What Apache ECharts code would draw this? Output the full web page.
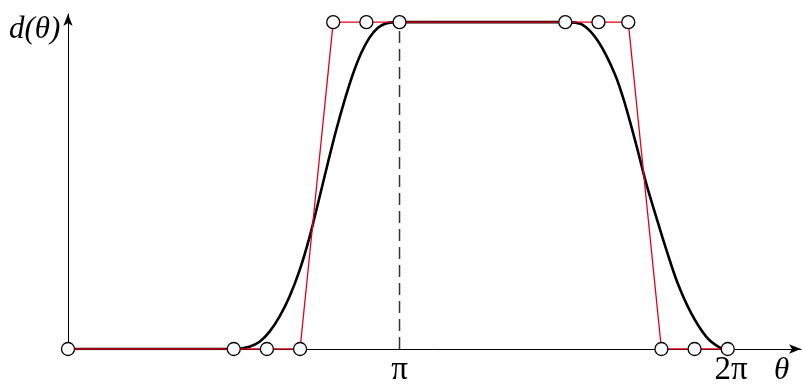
<!DOCTYPE html>
<html>
<head>
<meta charset="utf-8">
<script src="https://cdn.jsdelivr.net/npm/echarts@6/dist/echarts.min.js"></script>
<style>
    html, body { margin: 0; padding: 0; background: #fff; }
    #chart { width: 802px; height: 385px; }
</style>
</head>
<body>
<div id="chart"></div>
<script>
    // x values in units of pi
    var ctrlX = [0, 0.5, 0.6, 0.7, 0.8, 0.9, 1, 1.5, 1.6, 1.69, 1.79, 1.89, 1.99];
    var ctrlY = [0, 0, 0, 0, 1, 1, 1, 1, 1, 1, 0, 0, 0];

    // smooth curve d(theta)
    var curveX = [0, 0.5, 0.547, 0.578, 0.608, 0.638, 0.668, 0.699, 0.729, 0.759, 0.784, 0.809,
                  0.834, 0.859, 0.884, 0.909, 0.934, 0.959, 1,
                  1.5, 1.55, 1.6, 1.65, 1.68, 1.714, 1.744, 1.774, 1.805, 1.839, 1.88, 1.925, 1.965, 1.99];
    var curveY = [0, 0, 0.007, 0.022, 0.053, 0.099, 0.16, 0.242, 0.344, 0.466, 0.57, 0.67,
                  0.76, 0.84, 0.905, 0.952, 0.982, 0.996, 1,
                  1, 0.993, 0.94, 0.84, 0.75, 0.625, 0.507, 0.405, 0.303, 0.201, 0.109, 0.038, 0.005, 0];

    var tickLabels = { 1: 'π', 2: '2π' };

    function zip(xs, ys) {
        var out = [];
        for (var i = 0; i < xs.length; i++) out.push([xs[i], ys[i]]);
        return out;
    }

    var chart = echarts.init(document.getElementById('chart'));
    var serif = 'Liberation Serif';

    var option = {
        animation: false,
        backgroundColor: '#fff',
        grid: { left: 68, right: 1, top: 14, bottom: 36, outerBoundsMode: 'none' },
        xAxis: {
            type: 'value',
            min: 0,
            max: 2.211,
            interval: 1,
            splitLine: { show: false },
            axisTick: { show: false },
            axisLine: {
                onZero: false,
                symbol: ['none', 'arrow'],
                symbolSize: [7, 12],
                lineStyle: { color: '#000', width: 1 }
            },
            axisLabel: {
                margin: 5,
                color: '#000',
                fontFamily: serif,
                fontSize: 33,
                formatter: function (v) { return tickLabels[v] || ''; }
            }
        },
        yAxis: {
            type: 'value',
            min: 0,
            max: 1.025,
            splitLine: { show: false },
            axisTick: { show: false },
            axisLabel: { show: false },
            axisLine: {
                symbol: ['none', 'arrow'],
                symbolSize: [7, 12],
                lineStyle: { color: '#000', width: 1 }
            }
        },
        graphic: [
            {
                type: 'text', left: 9, top: 14,
                style: { text: 'd(θ)', font: 'italic 31px "Liberation Serif"', fill: '#000' }
            },
            {
                type: 'text', left: 774, top: 355,
                style: { text: 'θ', font: 'italic 31px "Liberation Serif"', fill: '#000' }
            }
        ],
        series: [
            {
                // dashed line at pi
                type: 'line',
                data: [[1, 0], [1, 1]],
                symbol: 'none',
                lineStyle: { color: '#333', width: 1.5, type: [12, 6] },
                z: 1
            },
            {
                type: 'line',
                data: zip(curveX, curveY),
                smooth: 0.3,
                symbol: 'none',
                lineStyle: { color: '#000', width: 2.6 },
                z: 2
            },
            {
                type: 'line',
                data: zip(ctrlX, ctrlY),
                symbol: 'circle',
                symbolSize: 13,
                showAllSymbol: true,
                itemStyle: { color: '#fff', borderColor: '#000', borderWidth: 1.3 },
                lineStyle: { color: '#e3001b', width: 1.3 },
                z: 3
            }
        ]
    };
    chart.setOption(option);
    window.onresize = function () {
        chart.resize();
    };
</script>
</body>
</html>
